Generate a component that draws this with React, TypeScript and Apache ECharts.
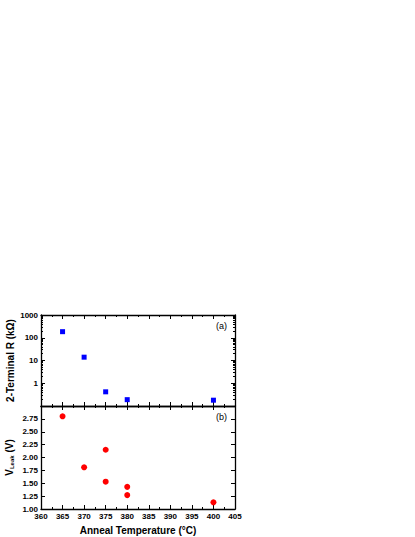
import React, { useEffect, useRef } from "react";
import * as echarts from "echarts";

const tempsR = [365, 370, 375, 380, 400];
const resistance = [185, 14, 0.42, 0.19, 0.18];

const tempsV = [365, 370, 375, 375, 380, 380, 400];
const vleak = [2.8, 1.81, 2.15, 1.53, 1.43, 1.27, 1.13];

const xTicksMin = 360;
const xTicksMax = 405;
const rMin = 0.1;
const rMax = 1000;
const vMin = 1.0;
const vMax = 3.0;

const FONT = "'Liberation Sans', Arial, sans-serif";

export default function App() {
  const ref = useRef<HTMLDivElement>(null);
  useEffect(() => {
    document.body.style.margin = "0";
    const chart = echarts.init(ref.current!, null, { renderer: "svg" });
    const lineStyle = { color: "#000", width: 1.3 };
    const tickMajor = { show: true, inside: true, length: 4, lineStyle: { color: "#000", width: 1 } };
    const minorTick = { show: true, splitNumber: 2, length: 2, lineStyle: { color: "#000", width: 1 } };
    const labelStyle = { fontFamily: FONT, fontWeight: "bold" as const, fontSize: 8, color: "#000" };

    const logMinor: number[] = [];
    for (let d = -1; d < 3; d++) {
      for (let k = 2; k <= 9; k++) logMinor.push(d + Math.log10(k));
    }

    const xBase = (gridIndex: number, position: string, showLabel: boolean, extra: any = {}) => ({
      type: "value",
      gridIndex,
      position,
      min: xTicksMin,
      max: xTicksMax,
      interval: 5,
      axisLine: { show: true, lineStyle, onZero: false },
      axisTick: tickMajor,
      minorTick,
      splitLine: { show: false },
      axisLabel: { show: showLabel, margin: 3, ...labelStyle },
      ...extra,
    });

    const option: any = {
      animation: false,
      grid: [
        { left: 41, top: 315, width: 194, height: 91 },
        { left: 41, top: 406, width: 194, height: 103 },
      ],
      xAxis: [
        xBase(0, "bottom", false),
        xBase(0, "top", false),
        xBase(1, "bottom", true, {
          name: "Anneal Temperature (°C)",
          nameLocation: "middle",
          nameGap: 16,
          nameTextStyle: { fontFamily: FONT, fontWeight: "bold", fontSize: 10, color: "#000" },
        }),
        xBase(1, "top", false),
      ],
      yAxis: [
        {
          type: "log",
          gridIndex: 0,
          position: "left",
          logBase: 10,
          min: rMin,
          max: rMax,
          interval: 1,
          axisLine: { show: true, lineStyle, onZero: false },
          axisTick: tickMajor,
          splitLine: { show: false },
          axisLabel: {
            show: true,
            margin: 3,
            ...labelStyle,
            formatter: (v: number) => (v < 0.5 ? "" : String(Math.round(v))),
          },
          name: "2-Terminal R (kΩ)",
          nameLocation: "middle",
          nameGap: 26,
          nameTextStyle: { fontFamily: FONT, fontWeight: "bold", fontSize: 10, color: "#000" },
        },
        {
          type: "log",
          gridIndex: 0,
          position: "right",
          logBase: 10,
          min: rMin,
          max: rMax,
          interval: 1,
          axisLine: { show: true, lineStyle, onZero: false },
          axisTick: tickMajor,
          splitLine: { show: false },
          axisLabel: { show: false },
        },
        {
          type: "value",
          gridIndex: 0,
          position: "left",
          min: -1,
          max: 3,
          axisLine: { show: false },
          axisTick: { show: true, inside: true, length: 2, customValues: logMinor, lineStyle: { color: "#000", width: 1 } },
          splitLine: { show: false },
          axisLabel: { show: false },
        },
        {
          type: "value",
          gridIndex: 0,
          position: "right",
          min: -1,
          max: 3,
          axisLine: { show: false },
          axisTick: { show: true, inside: true, length: 2, customValues: logMinor, lineStyle: { color: "#000", width: 1 } },
          splitLine: { show: false },
          axisLabel: { show: false },
        },
        {
          type: "value",
          gridIndex: 1,
          position: "left",
          min: vMin,
          max: vMax,
          interval: 0.25,
          axisLine: { show: true, lineStyle, onZero: false },
          axisTick: tickMajor,
          splitLine: { show: false },
          axisLabel: {
            show: true,
            margin: 3,
            ...labelStyle,
            formatter: (v: number) => (v > 2.9 ? "" : v.toFixed(2)),
          },
          name: "V{sub|Leak} (V)",
          nameLocation: "middle",
          nameGap: 26,
          nameTextStyle: {
            fontFamily: FONT,
            fontWeight: "bold",
            fontSize: 10,
            color: "#000",
            rich: {
              sub: { fontFamily: FONT, fontWeight: "bold", fontSize: 6, color: "#000", padding: [5, 0, 0, 0] },
            },
          },
        },
        {
          type: "value",
          gridIndex: 1,
          position: "right",
          min: vMin,
          max: vMax,
          interval: 0.25,
          axisLine: { show: true, lineStyle, onZero: false },
          axisTick: tickMajor,
          splitLine: { show: false },
          axisLabel: { show: false },
        },
      ],
      series: [
        {
          type: "scatter",
          xAxisIndex: 0,
          yAxisIndex: 0,
          symbol: "rect",
          symbolSize: 5,
          itemStyle: { color: "#0000FF", opacity: 1 },
          emphasis: { disabled: true },
          data: tempsR.map((t, i) => [t, resistance[i]]),
        },
        {
          type: "scatter",
          xAxisIndex: 2,
          yAxisIndex: 4,
          symbol: "circle",
          symbolSize: 6,
          itemStyle: { color: "#FF0000", opacity: 1 },
          emphasis: { disabled: true },
          data: tempsV.map((t, i) => [t, vleak[i]]),
        },
      ],
      graphic: [
        { type: "text", left: 216, top: 321, style: { text: "(a)", font: `9px ${FONT}`, fill: "#000" } },
        { type: "text", left: 216, top: 412, style: { text: "(b)", font: `9px ${FONT}`, fill: "#000" } },
      ],
    };
    chart.setOption(option);
    return () => chart.dispose();
  }, []);
  return <div ref={ref} style={{ width: 415, height: 537 }} />;
}
